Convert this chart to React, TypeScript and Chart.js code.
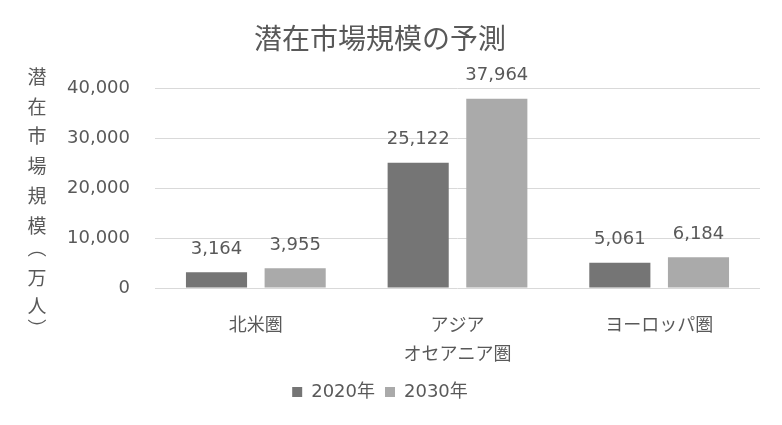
import React, { useEffect, useRef } from "react";
import { Chart, registerables } from "chart.js";

Chart.register(...registerables);

const categories: (string | string[])[] = ["北米圏", ["アジア", "オセアニア圏"], "ヨーロッパ圏"];
const seriesNames = ["2020年", "2030年"];
const values2020 = [3164, 25122, 5061];
const values2030 = [3955, 37964, 6184];
const yTicks = [0, 10000, 20000, 30000, 40000];
const titleText = "潜在市場規模の予測";
const yTitleChars = ["潜", "在", "市", "場", "規", "模", "︵", "万", "人", "︶"];

const FONT = "'DejaVu Sans', 'Noto Sans CJK JP', sans-serif";
const TEXT = "#595959";
const fmt = (v: number) => v.toLocaleString("en-US");

const dataLabels = {
  id: "dataLabels",
  afterDatasetsDraw(chart: any) {
    const ctx = chart.ctx;
    ctx.save();
    ctx.font = `18px ${FONT}`;
    ctx.fillStyle = TEXT;
    ctx.textAlign = "center";
    ctx.textBaseline = "middle";
    chart.data.datasets.forEach((ds: any, i: number) => {
      const meta = chart.getDatasetMeta(i);
      meta.data.forEach((el: any, j: number) => {
        ctx.fillText(fmt(ds.data[j]), el.x, el.y - 23);
      });
    });
    ctx.restore();
  },
};

const yTitle = {
  id: "yTitle",
  afterDraw(chart: any) {
    const ctx = chart.ctx;
    const ys = [77, 107, 136, 166, 196, 226, 248, 278, 306, 329];
    ctx.save();
    ctx.font = `19px 'Noto Sans CJK JP', sans-serif`;
    ctx.fillStyle = TEXT;
    ctx.textAlign = "center";
    ctx.textBaseline = "middle";
    yTitleChars.forEach((c, i) => ctx.fillText(c, 37, ys[i]));
    ctx.restore();
  },
};

export default function App() {
  const ref = useRef<HTMLCanvasElement>(null);
  useEffect(() => {
    if (!ref.current) return;
    const chart = new Chart(ref.current, {
      type: "bar",
      data: {
        labels: categories as any,
        datasets: [
          {
            label: seriesNames[0],
            data: values2020,
            backgroundColor: "#757575",
            barPercentage: 0.777,
            categoryPercentage: 0.78,
          },
          {
            label: seriesNames[1],
            data: values2030,
            backgroundColor: "#aaaaaa",
            barPercentage: 0.777,
            categoryPercentage: 0.78,
          },
        ],
      },
      options: {
        animation: false,
        responsive: true,
        maintainAspectRatio: false,
        layout: { padding: { left: 0, right: 22, top: 0, bottom: 14 } },
        plugins: {
          title: {
            display: true,
            text: titleText,
            color: TEXT,
            font: { family: FONT, size: 28, weight: "normal", lineHeight: 1.2 },
            padding: { top: 25, bottom: 30 },
          },
          legend: {
            position: "bottom",
            labels: {
              color: TEXT,
              font: { family: FONT, size: 18 },
              boxWidth: 10,
              boxHeight: 10,
              padding: 10,
            },
          },
          tooltip: { enabled: false },
        },
        scales: {
          x: {
            grid: { display: false },
            border: { display: false },
            ticks: {
              color: TEXT,
              font: { family: FONT, size: 18, lineHeight: 1.61 },
              padding: 16,
              maxRotation: 0,
              autoSkip: false,
            },
            afterFit: (s: any) => {
              s.height = 85;
            },
          },
          y: {
            min: 0,
            max: 40000,
            afterBuildTicks: (s: any) => {
              s.ticks = yTicks.map((v) => ({ value: v }));
            },
            grid: { color: "#d9d9d9", drawTicks: false, lineWidth: 1 },
            border: { display: false },
            ticks: {
              color: TEXT,
              font: { family: FONT, size: 18 },
              padding: 25,
              callback: (v: any) => fmt(Number(v)),
            },
            afterFit: (s: any) => {
              s.width = 155;
            },
          },
        },
      },
      plugins: [dataLabels, yTitle],
    });
    return () => chart.destroy();
  }, []);
  return (
    <div style={{ position: "absolute", left: 0, top: 0, width: 782, height: 425, background: "#fff" }}>
      <canvas ref={ref} />
    </div>
  );
}
